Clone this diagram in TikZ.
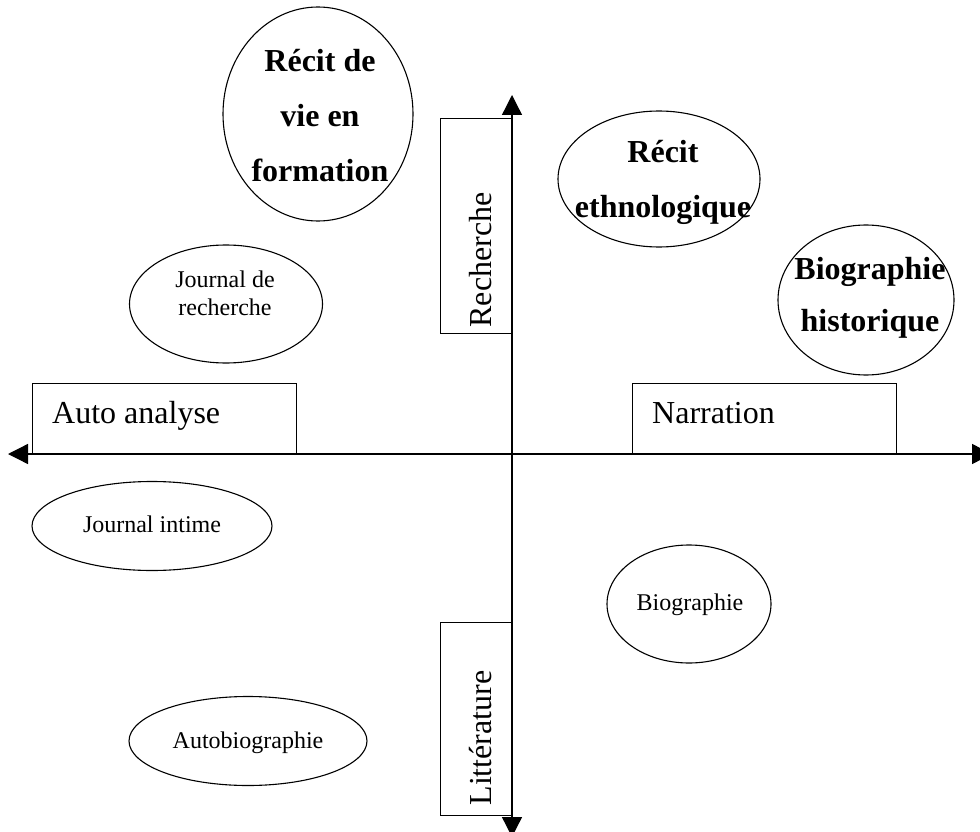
\documentclass[tikz,border=0pt]{standalone}
\usepackage{fontspec}
\setmainfont{Liberation Serif}
\usetikzlibrary{shapes.geometric,arrows.meta}
\begin{document}
\begin{tikzpicture}[x=1pt,y=-1pt,
  axis/.style={line width=1.3pt, {Triangle[length=20pt,width=20pt]}-{Triangle[length=20pt,width=20pt]}},
  oval/.style={draw, ellipse, line width=1.1pt, inner sep=0pt},
  frame/.style={draw, line width=1.3pt, inner sep=0pt, anchor=north west},
  big/.style={font=\fontsize{32}{38}\selectfont, inner sep=0pt},
  bigbold/.style={font=\fontsize{32}{55}\selectfont\bfseries, align=center, inner sep=0pt},
  small/.style={font=\fontsize{24}{28}\selectfont, align=center, inner sep=0pt},
]
\useasboundingbox (0,0) rectangle (980,832);

% boxes
\node[frame, minimum width=264pt, minimum height=71pt] (autoBox) at (32,383) {};
\node[frame, minimum width=264pt, minimum height=71pt] (narrBox) at (632,383) {};
\node[frame, minimum width=72pt, minimum height=215pt] (rechBox) at (440,118) {};
\node[frame, minimum width=72pt, minimum height=193pt] (litBox) at (440,622) {};

\node[big, anchor=base west] (autoTxt) at (52,423) {Auto analyse};
\node[big, anchor=base west] (narrTxt) at (652,423) {Narration};
\node[big, anchor=base, rotate=90] (rechTxt) at (491,260) {Recherche};
\node[big, anchor=base, rotate=90] (litTxt) at (491,738) {Littérature};

% axes
\coordinate (L) at (8,454);
\coordinate (R) at (992,454);
\coordinate (T) at (512,95);
\coordinate (B) at (512,837);
\draw[axis] (L) -- (R);
\draw[axis] (B) -- (T);

% ellipses
\node[oval, minimum width=190pt, minimum height=214pt] (e1) at (318,114) {};
\node[bigbold] (t1) at (320,116) {Récit de\\vie en\\formation};

\node[oval, minimum width=202pt, minimum height=136pt] (e2) at (659,179) {};
\node[bigbold] (t2) at (663,182) {Récit\\ethnologique};

\node[oval, minimum width=176pt, minimum height=150pt] (e3) at (866,300) {};
\node[bigbold, font=\fontsize{32}{52}\selectfont\bfseries] (t3) at (870,298) {Biographie\\historique};

\node[oval, minimum width=193pt, minimum height=118pt] (e4) at (226,304) {};
\node[small] (t4) at (225,293) {Journal de\\recherche};

\node[oval, minimum width=240pt, minimum height=89pt] (e5) at (152,526) {};
\node[small, anchor=base] (t5) at (152,532) {Journal intime};

\node[oval, minimum width=164pt, minimum height=118pt] (e6) at (689,604) {};
\node[small, anchor=base] (t6) at (690,610) {Biographie};

\node[oval, minimum width=238pt, minimum height=89pt] (e7) at (248,741) {};
\node[small, anchor=base] (t7) at (248,748) {Autobiographie};
\end{tikzpicture}
\end{document}
